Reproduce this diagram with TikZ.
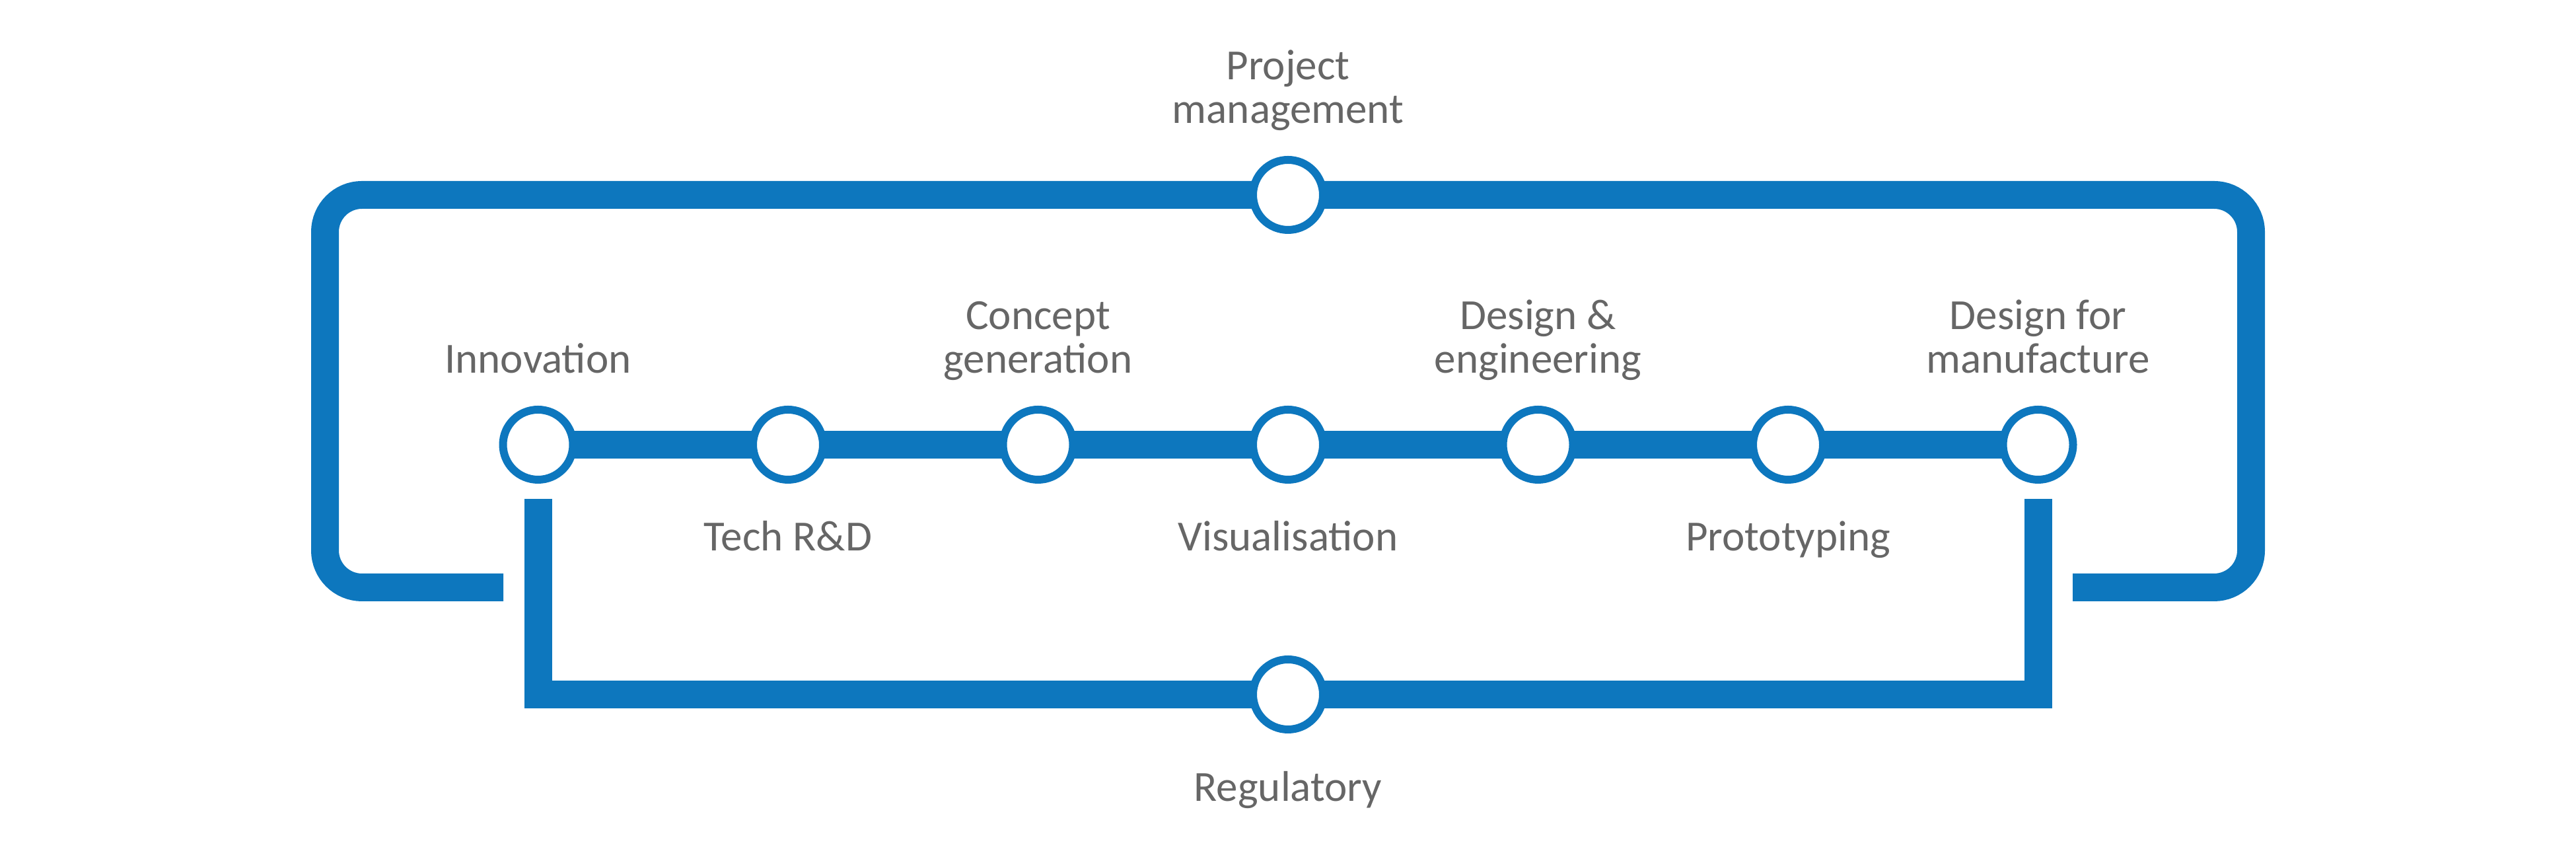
\documentclass[tikz,border=0pt]{standalone}
\usepackage{fontspec}
\setmainfont{Carlito}
\usetikzlibrary{backgrounds}
\definecolor{tubeblue}{RGB}{13,119,190}
\definecolor{labelgrey}{RGB}{102,102,102}

\begin{document}
\begin{tikzpicture}[
    tube/.style={line width=4.2mm,tubeblue},
    stop/.style={circle,draw=tubeblue,fill=white,line width=1.2mm,minimum size=10.6mm,inner sep=0pt},
    lbl/.style={text=labelgrey,font=\fontsize{18.5}{18.8}\selectfont,align=center,
                inner sep=0pt,anchor=south,text depth=0pt}]
    \useasboundingbox (0,0) rectangle (39,13);
    %% stations
    \foreach \i in {1,...,7}
        \node[stop] (s\i) at ({8.145+3.785*(\i-1)},6.27) {};
    \node[stop] (pm) at (19.5,10.05) {};
    \node[stop] (reg) at (19.5,2.49) {};
    \begin{scope}[on background layer]
        %% main line
        \foreach \i [count=\j from 2] in {1,...,6}
            \draw[tube] (s\i.center) -- (s\j.center);
        %% project management loop
        \coordinate (loopl) at (7.62,4.11);
        \coordinate (loopr) at (31.38,4.11);
        \draw[tube,rounded corners=5.6mm] (loopl) -- (4.92,4.11) -- (4.92,10.05) -- (pm.center);
        \draw[tube,rounded corners=5.6mm] (pm.center) -- (34.08,10.05) -- (34.08,4.11) -- (loopr);
        %% regulatory line
        \coordinate (regl) at (8.145,5.45);
        \coordinate (regr) at (30.855,5.45);
        \draw[tube] (regl) -- (regl |- reg) -- (reg.center);
        \draw[tube] (reg.center) -- (regr |- reg) -- (regr);
    \end{scope}
    %% labels
    \node[lbl] (l1) at (8.145,7.35) {Innovation};
    \node[lbl] (l2) at (11.93,4.66) {Tech R\&D};
    \node[lbl] (l3) at (15.715,7.35) {Concept\\generation};
    \node[lbl] (l4) at (19.5,4.66) {Visualisation};
    \node[lbl] (l5) at (23.285,7.35) {Design \&\\engineering};
    \node[lbl] (l6) at (27.07,4.66) {Prototyping};
    \node[lbl] (l7) at (30.855,7.35) {Design for\\manufacture};
    \node[lbl] (lpm) at (19.5,11.13) {Project\\management};
    \node[lbl] (lreg) at (19.5,0.87) {Regulatory};
\end{tikzpicture}
\end{document}
